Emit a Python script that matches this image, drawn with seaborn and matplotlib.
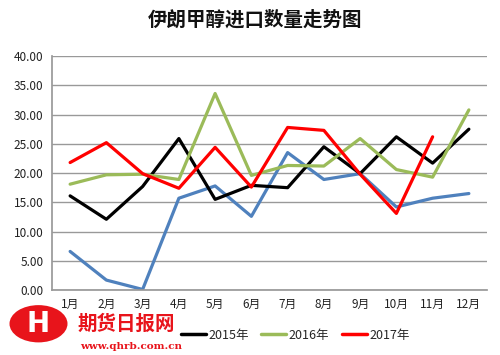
import matplotlib
matplotlib.use("Agg")
import matplotlib.pyplot as plt
from matplotlib.patches import Ellipse
from matplotlib.lines import Line2D
import seaborn as sns
import pandas as pd

months = ["1月", "2月", "3月", "4月", "5月", "6月", "7月", "8月", "9月", "10月", "11月", "12月"]
v2014 = [6.6, 1.7, 0.1, 15.7, 17.8, 12.6, 23.5, 18.9, 19.9, 14.2, 15.7, 16.5]
v2015 = [16.1, 12.1, 17.7, 25.9, 15.5, 17.9, 17.5, 24.5, 19.9, 26.2, 21.7, 27.5]
v2016 = [18.1, 19.7, 19.8, 18.9, 33.6, 19.6, 21.3, 21.2, 25.9, 20.6, 19.3, 30.8]
v2017 = [21.8, 25.2, 19.9, 17.4, 24.4, 17.6, 27.8, 27.3, 19.8, 13.1, 26.2, None]
years = ["2014年", "2015年", "2016年", "2017年"]
colors = ["#4F81BD", "#000000", "#9BBB59", "#FF0000"]

sns.set_theme(style="white")
plt.rcParams["font.family"] = ["Noto Sans CJK SC", "DejaVu Sans"]

rows = []
for yr, vals in zip(years, [v2014, v2015, v2016, v2017]):
    for i, (m, v) in enumerate(zip(months, vals)):
        if v is not None:
            rows.append({"month": i, "year": yr, "value": v})
df = pd.DataFrame(rows)

fig = plt.figure(figsize=(5, 3.55), dpi=100)
ax = fig.add_axes([0.104, 0.183, 0.870, 0.659])
sns.lineplot(data=df, x="month", y="value", hue="year", hue_order=years,
             palette=colors, linewidth=2.3, ax=ax, legend=False, sort=False)

ax.set_xlim(-0.5, 11.5)
ax.set_ylim(0, 40)
ax.set_yticks([0, 5, 10, 15, 20, 25, 30, 35, 40])
ax.set_yticklabels([f"{t:.2f}" for t in [0, 5, 10, 15, 20, 25, 30, 35, 40]], fontsize=8.5, color="#222222")
ax.set_xticks(range(12))
ax.set_xticklabels(months, fontsize=8.5, color="#222222")
ax.set_xlabel("")
ax.set_ylabel("")
ax.grid(axis="y", color="#999999", linewidth=1)
ax.set_axisbelow(True)
for s in ["top", "right"]:
    ax.spines[s].set_visible(False)
ax.spines["left"].set_color("#999999")
ax.spines["bottom"].set_color("#999999")
ax.tick_params(axis="both", length=0, pad=6)
ax.set_xticks([i - 0.5 for i in range(13)], minor=True)
ax.tick_params(axis="x", which="minor", length=5, color="#999999", direction="out")

fig.text(0.51, 0.945, "伊朗甲醇进口数量走势图", ha="center", va="center",
         fontsize=14, fontweight="bold", color="#111111")

handles = [Line2D([], [], color=c, lw=2.5) for c in colors[1:]]
fig.legend(handles, years[1:], loc="center", bbox_to_anchor=(0.59, 0.056), ncol=3,
           frameon=False, fontsize=9, handlelength=2.0, columnspacing=1.0, handletextpad=0.2)

# watermark
fig.patches.append(Ellipse((0.077, 0.088), 0.116, 0.105, transform=fig.transFigure,
                           facecolor="#E8141B", edgecolor="none", zorder=5))
fig.text(0.077, 0.088, "H", ha="center", va="center", fontsize=20, fontweight="bold",
         color="white", zorder=6, family="DejaVu Sans")
fig.text(0.155, 0.088, "期货日报网", ha="left", va="center", fontsize=14, fontweight="bold",
         color="#E8141B", zorder=6)
fig.text(0.16, 0.025, "www.qhrb.com.cn", ha="left", va="center", fontsize=7.5, fontweight="bold",
         color="#E8141B", family="DejaVu Serif", zorder=6)

fig.savefig("out.png", dpi=100)
